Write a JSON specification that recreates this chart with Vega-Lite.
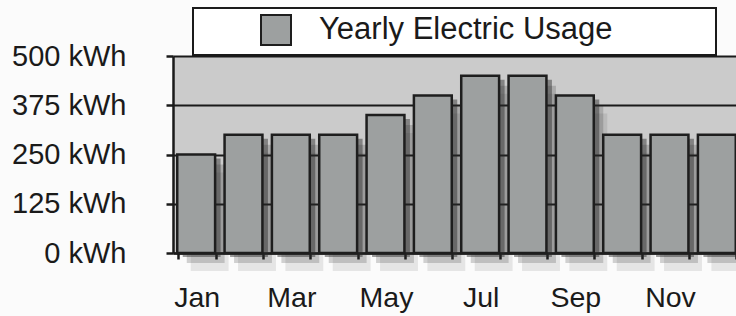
{
  "$schema": "https://vega.github.io/schema/vega-lite/v6.json",
  "autosize": {"type": "none"},
  "padding": {"left": 173, "top": 56, "right": 0, "bottom": 63},
  "width": 568,
  "height": 197,
  "background": "#fbfbfb",
  "data": {
    "values": [
      {"month": "Jan", "kwh": 250, "series": "Yearly Electric Usage"},
      {"month": "Feb", "kwh": 300, "series": "Yearly Electric Usage"},
      {"month": "Mar", "kwh": 300, "series": "Yearly Electric Usage"},
      {"month": "Apr", "kwh": 300, "series": "Yearly Electric Usage"},
      {"month": "May", "kwh": 350, "series": "Yearly Electric Usage"},
      {"month": "Jun", "kwh": 400, "series": "Yearly Electric Usage"},
      {"month": "Jul", "kwh": 450, "series": "Yearly Electric Usage"},
      {"month": "Aug", "kwh": 450, "series": "Yearly Electric Usage"},
      {"month": "Sep", "kwh": 400, "series": "Yearly Electric Usage"},
      {"month": "Oct", "kwh": 300, "series": "Yearly Electric Usage"},
      {"month": "Nov", "kwh": 300, "series": "Yearly Electric Usage"},
      {"month": "Dec", "kwh": 300, "series": "Yearly Electric Usage"}
    ]
  },
  "encoding": {
    "x": {
      "field": "month", "type": "ordinal", "sort": null,
      "scale": {"paddingInner": 0.2, "paddingOuter": 0.1},
      "axis": {
        "title": null, "labelAngle": 0, "tickBand": "extent",
        "labelExpr": "indexof(['Jan','Mar','May','Jul','Sep','Nov'], datum.label) >= 0 ? datum.label : ''",
        "labelFontSize": 28.5, "labelPadding": 24, "tickSize": 6, "tickWidth": 2.5,
        "domainWidth": 2.5
      }
    },
    "y": {
      "field": "kwh", "type": "quantitative",
      "scale": {"domain": [0, 500]},
      "axis": {
        "title": null, "values": [0, 125, 250, 375, 500],
        "labelExpr": "datum.value + ' kWh'",
        "labelFontSize": 29, "labelPadding": 40, "tickSize": 7, "tickWidth": 2.5,
        "domainWidth": 2.5, "grid": true, "gridColor": "#1a1a1a", "gridWidth": 2
      }
    }
  },
  "layer": [
    {
      "mark": {"type": "bar", "fill": "#2a2a2a", "opacity": 0.1, "xOffset": 13, "yOffset": 18}
    },
    {
      "mark": {"type": "bar", "fill": "#2a2a2a", "opacity": 0.2, "xOffset": 9, "yOffset": 10}
    },
    {
      "mark": {"type": "bar", "fill": "#2a2a2a", "opacity": 0.45, "xOffset": 5, "yOffset": 4}
    },
    {
      "mark": {"type": "bar", "stroke": "#1e1e1e", "strokeWidth": 2.5, "xOffset": -0.5},
      "encoding": {
        "color": {
          "field": "series", "type": "nominal",
          "scale": {"range": ["#9da0a0"]},
          "legend": {
            "orient": "none", "legendX": 20, "legendY": -48,
            "title": "\u00a0", "titleOrient": "right", "titlePadding": 98, "titleFontSize": 2,
            "symbolType": "square", "symbolSize": 900, "symbolOffset": 61,
            "symbolStrokeColor": "#1e1e1e", "symbolStrokeWidth": 2, "symbolOpacity": 1,
            "labelOffset": 27, "labelFontSize": 31, "labelColor": "#1a1a1a",
            "labelFont": "Liberation Sans", "labelLimit": 0,
            "padding": 6, "strokeColor": "#1a1a1a", "fillColor": "#ffffff"
          }
        }
      }
    }
  ],
  "config": {
    "font": "Liberation Sans",
    "view": {"fill": "#cbcbcb", "stroke": null},
    "axis": {
      "domainColor": "#1a1a1a", "tickColor": "#1a1a1a",
      "labelColor": "#1a1a1a", "labelFont": "Liberation Sans"
    },
    "legend": {"strokeWidth": 2}
  }
}
